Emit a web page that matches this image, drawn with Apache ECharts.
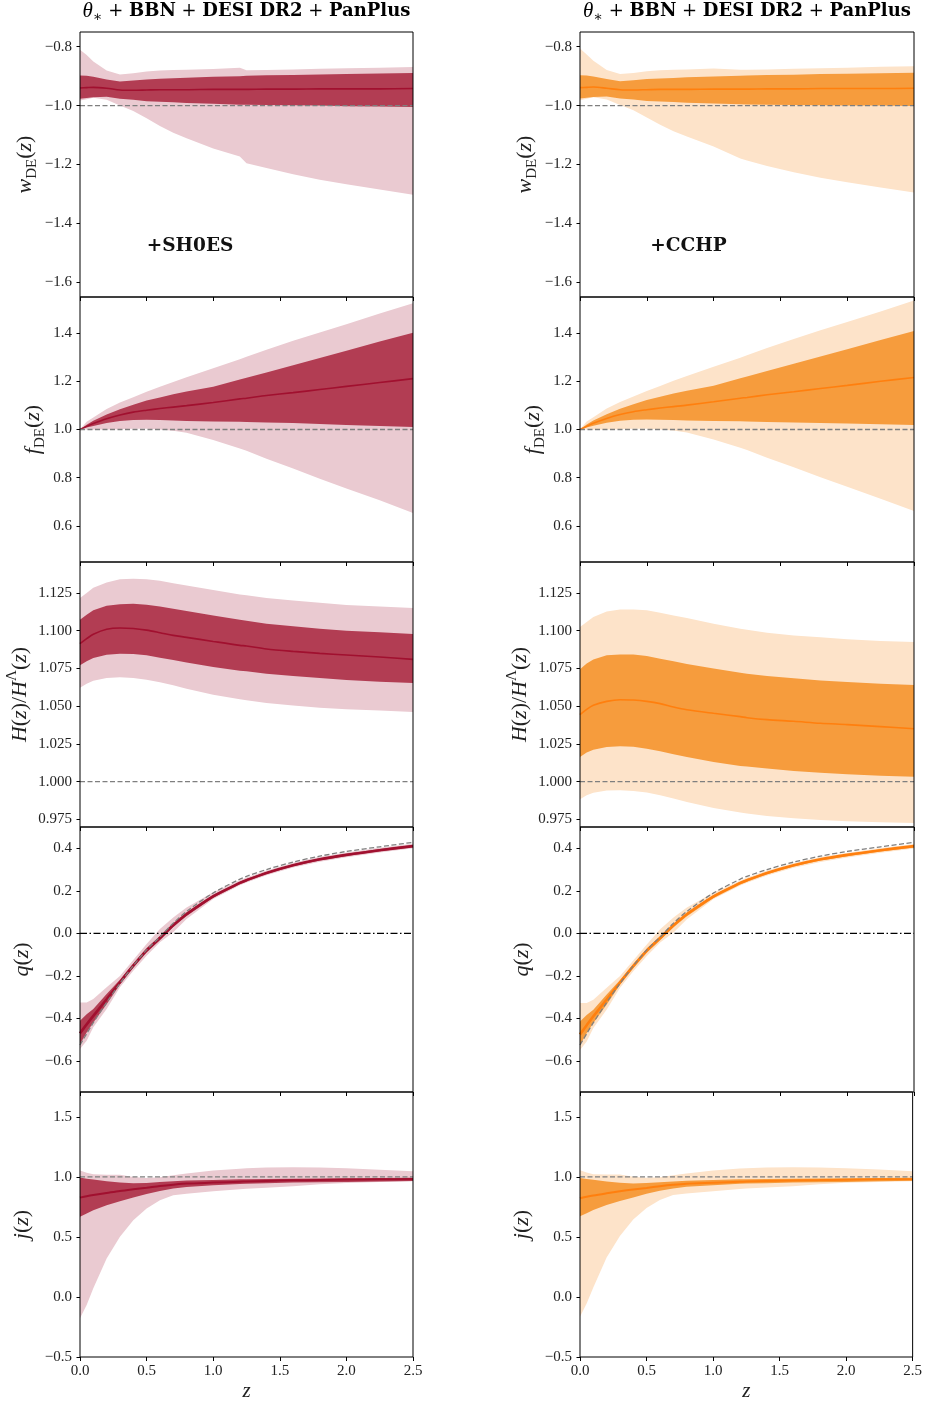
<!DOCTYPE html>
<html><head><meta charset="utf-8">
<script src="https://cdn.jsdelivr.net/npm/echarts@6/dist/echarts.min.js"></script>
<style>html,body{margin:0;padding:0;background:#fff}#c{width:925px;height:1407px}</style>
</head><body><div id="c"></div>
<script>
// ---------------- DATA ----------------
const Z = [0,0.05,0.1,0.2,0.3,0.4,0.5,0.6,0.7,0.8,1.0,1.2,1.25,1.4,1.6,1.8,2.0,2.25,2.5];

// +SH0ES column
const w_s_hi95 = [-0.81,-0.828,-0.85,-0.881,-0.894,-0.89,-0.884,-0.881,-0.879,-0.878,-0.876,-0.871,-0.88,-0.879,-0.877,-0.875,-0.873,-0.871,-0.869];
const w_s_hi68 = [-0.898,-0.899,-0.902,-0.911,-0.918,-0.915,-0.911,-0.909,-0.907,-0.905,-0.902,-0.9,-0.899,-0.897,-0.896,-0.894,-0.893,-0.891,-0.889];
const w_s_med  = [-0.94,-0.939,-0.938,-0.941,-0.947,-0.948,-0.947,-0.946,-0.946,-0.946,-0.945,-0.945,-0.945,-0.944,-0.944,-0.943,-0.943,-0.943,-0.942];
const w_s_lo68 = [-0.977,-0.974,-0.972,-0.97,-0.977,-0.98,-0.985,-0.987,-0.989,-0.991,-0.994,-0.997,-0.997,-0.998,-0.999,-1.0,-1.002,-1.003,-1.005];
const w_s_lo95 = [-0.983,-0.978,-0.973,-0.98,-1.0,-1.018,-1.043,-1.069,-1.092,-1.111,-1.146,-1.173,-1.196,-1.212,-1.233,-1.252,-1.267,-1.285,-1.303];

const f_s_hi95 = [1.0,1.032,1.05,1.085,1.112,1.134,1.157,1.177,1.197,1.217,1.254,1.292,1.302,1.331,1.368,1.403,1.437,1.481,1.524];
const f_s_hi68 = [1.0,1.02,1.036,1.062,1.084,1.103,1.12,1.133,1.146,1.158,1.177,1.208,1.215,1.237,1.267,1.297,1.327,1.365,1.402];
const f_s_med  = [1.0,1.013,1.025,1.045,1.06,1.072,1.08,1.087,1.093,1.099,1.112,1.127,1.13,1.141,1.153,1.166,1.179,1.195,1.211];
const f_s_lo68 = [1.0,1.008,1.015,1.027,1.035,1.039,1.04,1.039,1.037,1.035,1.033,1.032,1.031,1.029,1.027,1.023,1.019,1.015,1.01];
const f_s_lo95 = [1.0,1.0,1.0,1.0,1.001,1.003,1.003,1.0,0.995,0.986,0.956,0.921,0.912,0.879,0.838,0.796,0.755,0.706,0.653];

const H_s_hi95 = [1.1216,1.125,1.1285,1.132,1.134,1.1344,1.134,1.133,1.1315,1.13,1.127,1.124,1.1234,1.1216,1.12,1.1185,1.117,1.116,1.115];
const H_s_hi68 = [1.1073,1.1106,1.1135,1.1165,1.1176,1.1179,1.1172,1.116,1.1146,1.113,1.1101,1.1073,1.1066,1.1046,1.1029,1.1013,1.1,1.0989,1.0978];
const H_s_med  = [1.0914,1.0947,1.0976,1.1009,1.1018,1.1015,1.1004,1.0987,1.0969,1.0956,1.0929,1.0903,1.0899,1.0879,1.0863,1.085,1.0839,1.0826,1.081];
const H_s_lo68 = [1.0771,1.0797,1.0819,1.0841,1.0848,1.0846,1.0837,1.0821,1.0806,1.079,1.076,1.0735,1.0731,1.0715,1.07,1.0687,1.0673,1.0662,1.0654];
const H_s_lo95 = [1.0623,1.0649,1.0669,1.0687,1.0691,1.0687,1.0676,1.0658,1.0638,1.0616,1.0576,1.0546,1.0539,1.0521,1.0504,1.049,1.0479,1.0471,1.0462];

const q_s_hi95 = [-0.325,-0.325,-0.309,-0.254,-0.2,-0.125,-0.05,0.02,0.075,0.122,0.193,0.25,0.263,0.296,0.332,0.36,0.38,0.402,0.421];
const q_s_hi68 = [-0.411,-0.38,-0.356,-0.285,-0.218,-0.142,-0.07,-0.012,0.046,0.099,0.181,0.243,0.256,0.289,0.325,0.353,0.374,0.396,0.415];
const q_s_med  = [-0.47,-0.428,-0.388,-0.31,-0.23,-0.152,-0.08,-0.022,0.038,0.09,0.174,0.237,0.25,0.284,0.32,0.348,0.369,0.391,0.41];
const q_s_lo68 = [-0.521,-0.466,-0.419,-0.333,-0.24,-0.162,-0.09,-0.032,0.03,0.081,0.167,0.231,0.244,0.279,0.315,0.343,0.364,0.386,0.405];
const q_s_lo95 = [-0.544,-0.505,-0.442,-0.356,-0.254,-0.176,-0.105,-0.042,0.005,0.067,0.162,0.226,0.239,0.273,0.309,0.337,0.358,0.38,0.4];

const j_s_hi95 = [1.053,1.036,1.022,1.019,1.019,1.0,0.992,0.997,1.014,1.028,1.053,1.069,1.072,1.078,1.08,1.078,1.072,1.061,1.047];
const j_s_hi68 = [0.995,0.986,0.978,0.964,0.953,0.947,0.95,0.958,0.964,0.97,0.975,0.981,0.982,0.983,0.986,0.988,0.99,0.992,0.994];
const j_s_med  = [0.828,0.84,0.85,0.867,0.884,0.898,0.911,0.925,0.936,0.945,0.953,0.961,0.963,0.967,0.972,0.975,0.978,0.981,0.983];
const j_s_lo68 = [0.668,0.695,0.723,0.765,0.798,0.828,0.859,0.884,0.903,0.917,0.931,0.942,0.944,0.947,0.953,0.956,0.958,0.963,0.967];
const j_s_lo95 = [-0.177,-0.066,0.072,0.321,0.501,0.64,0.737,0.806,0.848,0.861,0.881,0.898,0.902,0.911,0.922,0.939,0.95,0.958,0.964];

// +CCHP column
const w_c_hi95 = [-0.806,-0.826,-0.848,-0.879,-0.893,-0.889,-0.883,-0.88,-0.878,-0.877,-0.874,-0.878,-0.878,-0.877,-0.875,-0.873,-0.871,-0.868,-0.866];
const w_c_hi68 = [-0.897,-0.898,-0.901,-0.91,-0.917,-0.914,-0.91,-0.908,-0.906,-0.904,-0.901,-0.899,-0.898,-0.896,-0.895,-0.893,-0.892,-0.89,-0.888];
const w_c_med  = [-0.939,-0.938,-0.937,-0.941,-0.946,-0.947,-0.946,-0.945,-0.945,-0.945,-0.944,-0.944,-0.944,-0.943,-0.943,-0.942,-0.942,-0.942,-0.941];
const w_c_lo68 = [-0.976,-0.973,-0.971,-0.969,-0.976,-0.979,-0.984,-0.986,-0.988,-0.99,-0.993,-0.995,-0.996,-0.997,-0.998,-0.999,-1.0,-1.0,-1.001];
const w_c_lo95 = [-0.982,-0.977,-0.972,-0.979,-0.998,-1.016,-1.04,-1.065,-1.087,-1.105,-1.139,-1.18,-1.186,-1.205,-1.226,-1.245,-1.26,-1.278,-1.295];

const f_c_hi95 = [1.0,1.033,1.051,1.087,1.114,1.137,1.16,1.181,1.202,1.222,1.26,1.298,1.308,1.338,1.376,1.412,1.446,1.49,1.535];
const f_c_hi68 = [1.0,1.021,1.037,1.063,1.086,1.105,1.122,1.136,1.149,1.161,1.182,1.213,1.22,1.243,1.273,1.303,1.333,1.371,1.409];
const f_c_med  = [1.0,1.013,1.026,1.046,1.062,1.074,1.082,1.089,1.095,1.101,1.115,1.13,1.133,1.144,1.157,1.17,1.183,1.2,1.216];
const f_c_lo68 = [1.0,1.008,1.016,1.028,1.036,1.04,1.041,1.04,1.039,1.037,1.035,1.034,1.033,1.031,1.029,1.027,1.025,1.022,1.019];
const f_c_lo95 = [1.0,1.0,1.0,1.0,1.001,1.003,1.003,1.0,0.996,0.988,0.958,0.924,0.915,0.883,0.843,0.802,0.762,0.713,0.662];

const H_c_hi95 = [1.1024,1.1057,1.109,1.1128,1.1141,1.1141,1.1135,1.1119,1.1101,1.1084,1.1046,1.1013,1.1007,1.0987,1.0969,1.0956,1.0943,1.0932,1.0925];
const H_c_hi68 = [1.0744,1.0782,1.081,1.0837,1.0843,1.0843,1.0832,1.0815,1.0797,1.0779,1.0749,1.0722,1.0715,1.07,1.0685,1.0671,1.066,1.0649,1.064];
const H_c_med  = [1.0444,1.0479,1.0506,1.0532,1.0543,1.0541,1.0532,1.0517,1.0495,1.0477,1.0453,1.0431,1.0424,1.0411,1.04,1.0387,1.0378,1.0365,1.0351];
const H_c_lo68 = [1.0164,1.0193,1.0212,1.023,1.0234,1.0232,1.0219,1.0201,1.0182,1.0164,1.0131,1.0104,1.01,1.0087,1.0071,1.006,1.0049,1.004,1.0032];
const H_c_lo95 = [0.9884,0.991,0.9926,0.9941,0.9943,0.9939,0.9928,0.991,0.9888,0.9866,0.9826,0.9796,0.979,0.9773,0.9758,0.9746,0.9738,0.9731,0.9727];

const q_c_hi95 = [-0.328,-0.328,-0.312,-0.256,-0.201,-0.126,-0.052,0.019,0.074,0.121,0.192,0.249,0.262,0.295,0.331,0.359,0.379,0.401,0.42];
const q_c_hi68 = [-0.415,-0.384,-0.359,-0.287,-0.219,-0.143,-0.071,-0.013,0.045,0.098,0.18,0.242,0.255,0.288,0.324,0.352,0.373,0.395,0.414];
const q_c_med  = [-0.475,-0.432,-0.39,-0.311,-0.231,-0.153,-0.081,-0.022,0.038,0.09,0.174,0.237,0.25,0.284,0.32,0.348,0.369,0.391,0.41];
const q_c_lo68 = [-0.525,-0.47,-0.422,-0.335,-0.241,-0.163,-0.091,-0.033,0.029,0.08,0.166,0.23,0.243,0.278,0.314,0.342,0.363,0.385,0.404];
const q_c_lo95 = [-0.548,-0.508,-0.445,-0.358,-0.256,-0.177,-0.106,-0.043,0.004,0.066,0.161,0.225,0.238,0.272,0.308,0.336,0.357,0.379,0.399];

const j_c_hi95 = [1.055,1.037,1.023,1.02,1.02,1.001,0.993,0.998,1.015,1.029,1.054,1.07,1.073,1.079,1.081,1.079,1.073,1.062,1.048];
const j_c_hi68 = [0.992,0.984,0.977,0.963,0.952,0.946,0.949,0.957,0.963,0.969,0.975,0.98,0.981,0.983,0.985,0.987,0.99,0.992,0.993];
const j_c_med  = [0.822,0.835,0.846,0.864,0.881,0.896,0.909,0.923,0.935,0.944,0.952,0.96,0.962,0.966,0.971,0.974,0.977,0.98,0.982];
const j_c_lo68 = [0.672,0.698,0.725,0.766,0.799,0.829,0.86,0.885,0.904,0.918,0.932,0.943,0.945,0.948,0.954,0.957,0.959,0.964,0.968];
const j_c_lo95 = [-0.165,-0.055,0.08,0.33,0.508,0.645,0.741,0.808,0.849,0.862,0.882,0.899,0.903,0.912,0.923,0.94,0.951,0.959,0.965];

// LCDM reference deceleration parameter (grey dashed)
const q_lcdm = [-0.525,-0.472,-0.42,-0.325,-0.235,-0.152,-0.078,-0.017,0.048,0.103,0.19,0.255,0.268,0.3,0.335,0.363,0.385,0.407,0.428];

// reference levels
const ref_w = -1.0, ref_f = 1.0, ref_H = 1.0, ref_j = 1.0, ref_q0 = 0.0;

// tick labels
const ticks_z = [0, 0.5, 1.0, 1.5, 2.0, 2.5];
const ticks_w = [-1.6, -1.4, -1.2, -1.0, -0.8];
const ticks_f = [0.6, 0.8, 1.0, 1.2, 1.4];
const ticks_H = [0.975, 1.0, 1.025, 1.05, 1.075, 1.1, 1.125];
const ticks_q = [-0.6, -0.4, -0.2, 0.0, 0.2, 0.4];
const ticks_j = [-0.5, 0.0, 0.5, 1.0, 1.5];

const colTitles = ['+SH0ES', '+CCHP'];

// ---------------- BUILD ----------------
const SERIF = 'Liberation Serif, DejaVu Serif, serif';
const TSERIF = 'DejaVu Serif, Liberation Serif, serif';
const COL = [
  {line:'#a1102f', dark:'#b23d53', light:'#eacad1'},
  {line:'#ff7f0e', dark:'#f69c3d', light:'#fde3c9'}
];
const NF = 22, NS = 15;
const nameRich = {
  i:{fontFamily:SERIF, fontStyle:'italic', fontSize:NF, lineHeight:30, color:'#222', verticalAlign:'middle'},
  n:{fontFamily:SERIF, fontSize:NF, lineHeight:30, color:'#222', verticalAlign:'middle'},
  s:{fontFamily:SERIF, fontSize:NS, color:'#222', verticalAlign:'bottom'},
  p:{fontFamily:SERIF, fontSize:NS, color:'#222', verticalAlign:'top'}
};
const fmt = (v, d) => (v < -1e-9 ? '\u2212' : '') + Math.abs(v).toFixed(d);

const ROWS = [
  {min:-1.65, max:-0.75, ticks:ticks_w, dec:1, gap:40, name:'{i|w}{s|DE}{n|(}{i|z}{n|)}', ref:ref_w,
   data:[[w_s_lo95,w_s_hi95,w_s_lo68,w_s_hi68,w_s_med],[w_c_lo95,w_c_hi95,w_c_lo68,w_c_hi68,w_c_med]], lw:1.6},
  {min:0.45, max:1.55, ticks:ticks_f, dec:1, gap:32, name:'{i|f}{s|DE}{n|(}{i|z}{n|)}', ref:ref_f,
   data:[[f_s_lo95,f_s_hi95,f_s_lo68,f_s_hi68,f_s_med],[f_c_lo95,f_c_hi95,f_c_lo68,f_c_hi68,f_c_med]], lw:1.6},
  {min:0.97, max:1.1455, ticks:ticks_H, dec:3, gap:45, name:'{i|H}{n|(}{i|z}{n|)/}{i|H}{p|Λ}{n|(}{i|z}{n|)}', ref:ref_H,
   data:[[H_s_lo95,H_s_hi95,H_s_lo68,H_s_hi68,H_s_med],[H_c_lo95,H_c_hi95,H_c_lo68,H_c_hi68,H_c_med]], lw:1.6},
  {min:-0.746, max:0.5, ticks:ticks_q, dec:1, gap:43, name:'{i|q}{n|(}{i|z}{n|)}', ref:null,
   data:[[q_s_lo95,q_s_hi95,q_s_lo68,q_s_hi68,q_s_med],[q_c_lo95,q_c_hi95,q_c_lo68,q_c_hi68,q_c_med]], lw:2.6},
  {min:-0.5, max:1.708, ticks:ticks_j, dec:1, gap:43, name:'{i|j}{n|(}{i|z}{n|)}', ref:ref_j,
   data:[[j_s_lo95,j_s_hi95,j_s_lo68,j_s_hi68,j_s_med],[j_c_lo95,j_c_hi95,j_c_lo68,j_c_hi68,j_c_med]], lw:2.0}
];

const grids = [], xAxes = [], yAxes = [], series = [];
function band(g, lo, hi, color, z) {
  return {
    type:'custom', xAxisIndex:g, yAxisIndex:g, silent:true, clip:true, z:z,
    data: Z.map((zz,i)=>[zz, lo[i], hi[i]]),
    encode:{x:0, y:[1,2]},
    renderItem:(params, api) => {
      if (params.dataIndex !== 0) return null;
      const pts = [];
      for (let i = 0; i < Z.length; i++) pts.push(api.coord([Z[i], hi[i]]));
      for (let i = Z.length - 1; i >= 0; i--) pts.push(api.coord([Z[i], lo[i]]));
      return {type:'polygon', shape:{points:pts}, style:{fill:color, stroke:null}};
    }
  };
}
ROWS.forEach((row, r) => {
  for (let c = 0; c < 2; c++) {
    const g = r*2 + c;
    grids.push({left: c ? 580 : 80, top: 32 + 265*r, width: c ? 334 : 333, height: 265,
      show:true, z:10, borderColor:'#000', borderWidth:1, backgroundColor:'rgba(0,0,0,0)'});
    xAxes.push({gridIndex:g, type:'value', min:0, max:2.5, interval:0.5, position:'bottom',
      axisLine:{show:false, onZero:false}, splitLine:{show:false},
      axisTick:{show:true, length:4, customValues:ticks_z, lineStyle:{color:'#000', width:1}},
      axisLabel:{show: r === 4, customValues:ticks_z, margin:7, fontFamily:SERIF, fontSize:15, color:'#222',
        showMinLabel:true, showMaxLabel:true, formatter: v => fmt(v, 1)},
      name: r === 4 ? 'z' : '', nameLocation:'middle', nameGap:24,
      nameTextStyle:{fontFamily:SERIF, fontStyle:'italic', fontSize:21, color:'#222'}});
    yAxes.push({gridIndex:g, type:'value', min:row.min, max:row.max,
      axisLine:{show:false, onZero:false}, splitLine:{show:false},
      axisTick:{show:true, length:3.5, customValues:row.ticks, lineStyle:{color:'#000', width:1}},
      axisLabel:{customValues:row.ticks, margin:8, fontFamily:SERIF, fontSize:15, color:'#222',
        formatter: v => fmt(v, row.dec)},
      name: row.name, nameLocation:'middle', nameRotate:90, nameGap:row.gap,
      nameTextStyle:{rich:nameRich}});
    const [lo95, hi95, lo68, hi68, med] = row.data[c];
    const col = COL[c];
    series.push(band(g, lo95, hi95, col.light, 1));
    series.push(band(g, lo68, hi68, col.dark, 1));
    series.push({type:'line', xAxisIndex:g, yAxisIndex:g, silent:true, symbol:'none', smooth:0.3, z:3,
      data: Z.map((zz,i)=>[zz, med[i]]), lineStyle:{color:col.line, width:row.lw}});
    if (r === 3) {
      series.push({type:'line', xAxisIndex:g, yAxisIndex:g, silent:true, symbol:'none', smooth:0.3, z:4,
        data: Z.map((zz,i)=>[zz, q_lcdm[i]]), lineStyle:{color:'#7f7f7f', width:1.3, type:[5,2.5]}});
      series.push({type:'line', xAxisIndex:g, yAxisIndex:g, silent:true, symbol:'none', z:4,
        data: [[Z[0], ref_q0],[Z[Z.length-1], ref_q0]], lineStyle:{color:'#000', width:1.3, type:[7,2.5,1.5,2.5]}});
    } else {
      series.push({type:'line', xAxisIndex:g, yAxisIndex:g, silent:true, symbol:'none', z:4,
        data: [[Z[0], row.ref],[Z[Z.length-1], row.ref]], lineStyle:{color:'#7f7f7f', width:1.3, type:[5,2.5]}});
    }
  }
});

const titleRich = {
  t:{fontFamily:SERIF, fontStyle:'italic', fontSize:21, color:'#111', lineHeight:26, verticalAlign:'middle'},
  ts:{fontFamily:SERIF, fontSize:14, color:'#111', verticalAlign:'bottom'},
  p:{fontFamily:TSERIF, fontSize:18, color:'#111', lineHeight:26, verticalAlign:'middle'},
  b:{fontFamily:TSERIF, fontWeight:'bold', fontSize:18, color:'#111', lineHeight:26, verticalAlign:'middle'}
};
const titleText = '{t|θ}{ts|∗}{p| + }{b|BBN}{p| + }{b|DESI DR2}{p| + }{b|PanPlus}';
const graphics = [];
[246.5, 747].forEach((cx, c) => {
  graphics.push({type:'text', x:cx, y:11, silent:true,
    style:{text:titleText, rich:titleRich, align:'center', verticalAlign:'middle'}});
  graphics.push({type:'text', x:[190, 688.5][c], y:246, silent:true,
    style:{text:colTitles[c], fontFamily:TSERIF, fontWeight:'bold', fontSize:18.5, fill:'#111',
      align:'center', verticalAlign:'middle'}});
});

const chart = echarts.init(document.getElementById('c'), null, {renderer:'canvas'});
chart.setOption({
  animation:false, backgroundColor:'#fff',
  grid:grids, xAxis:xAxes, yAxis:yAxes, series:series, graphic:graphics
});
</script>
</body></html>
